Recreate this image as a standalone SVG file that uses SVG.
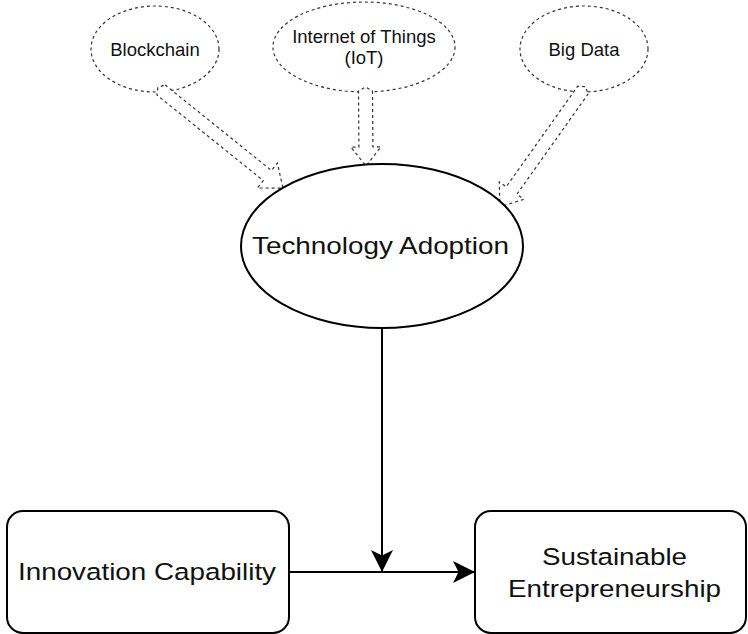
<svg xmlns="http://www.w3.org/2000/svg" width="748" height="634" viewBox="0 0 748 634">
<style>
.bg{fill:#fff}
.dash{fill:#fff;stroke:#333;stroke-width:1.2;stroke-dasharray:3 3}
.solid{fill:#fff;stroke:#000;stroke-width:2}
.t{font-family:"Liberation Sans",Arial,sans-serif;fill:#111;text-anchor:middle}
.s{font-size:18.5px}
.l{font-size:24.5px}
.line{fill:none;stroke:#000;stroke-width:2}
</style>
<defs>
<marker id="arr" markerUnits="userSpaceOnUse" markerWidth="22" markerHeight="22" viewBox="0 0 20 20" refX="20" refY="10" orient="auto">
<path d="M0,0 L20,10 L0,20 L5,10 Z" fill="#000"/>
</marker>
</defs>
<rect class="bg" x="0" y="0" width="748" height="634"/>

<g id="blockchain">
<ellipse class="dash" cx="155" cy="49" rx="64" ry="43"/>
<text class="t s" x="155" y="56">Blockchain</text>
</g>
<g id="iot">
<ellipse class="dash" cx="364" cy="47" rx="91" ry="45"/>
<text class="t s" x="364" y="43">Internet of Things</text>
<text class="t s" x="364" y="64">(IoT)</text>
</g>
<g id="bigdata">
<ellipse class="dash" cx="584" cy="49" rx="64" ry="43"/>
<text class="t s" x="584" y="56">Big Data</text>
</g>

<g id="connectors">
<path class="dash" transform="translate(161,90) rotate(38.8)" d="M0,-6.5 L136.5,-6.5 L136.5,-16 L156.5,0 L136.5,16 L136.5,6.5 L0,6.5 L-4,0 Z"/>
<path class="dash" transform="translate(365.5,91) rotate(89.6)" d="M0,-7 L56,-7 L56,-15 L75,0 L56,15 L56,7 L0,7 L-4,0 Z"/>
<path class="dash" transform="translate(583,90) rotate(125.4)" d="M0,-6.5 L123.4,-6.5 L123.4,-15 L143.4,0 L123.4,15 L123.4,6.5 L0,6.5 L-4,0 Z"/>
<line class="line" x1="382" y1="328" x2="382" y2="572" marker-end="url(#arr)"/>
<line class="line" x1="289" y1="572" x2="475" y2="572" marker-end="url(#arr)"/>
</g>

<g id="technology">
<ellipse class="solid" cx="382" cy="246" rx="141" ry="82"/>
<text class="t l" x="380.5" y="254" textLength="257" lengthAdjust="spacingAndGlyphs">Technology Adoption</text>
</g>
<g id="innovation">
<rect class="solid" x="7" y="511" width="282" height="122" rx="16" ry="16"/>
<text class="t l" x="147" y="580" textLength="258" lengthAdjust="spacingAndGlyphs">Innovation Capability</text>
</g>
<g id="sustainable">
<rect class="solid" x="475" y="511" width="271" height="122" rx="16" ry="16"/>
<text class="t l" x="614.5" y="565" textLength="145" lengthAdjust="spacingAndGlyphs">Sustainable</text>
<text class="t l" x="614.5" y="597" textLength="213" lengthAdjust="spacingAndGlyphs">Entrepreneurship</text>
</g>
</svg>
